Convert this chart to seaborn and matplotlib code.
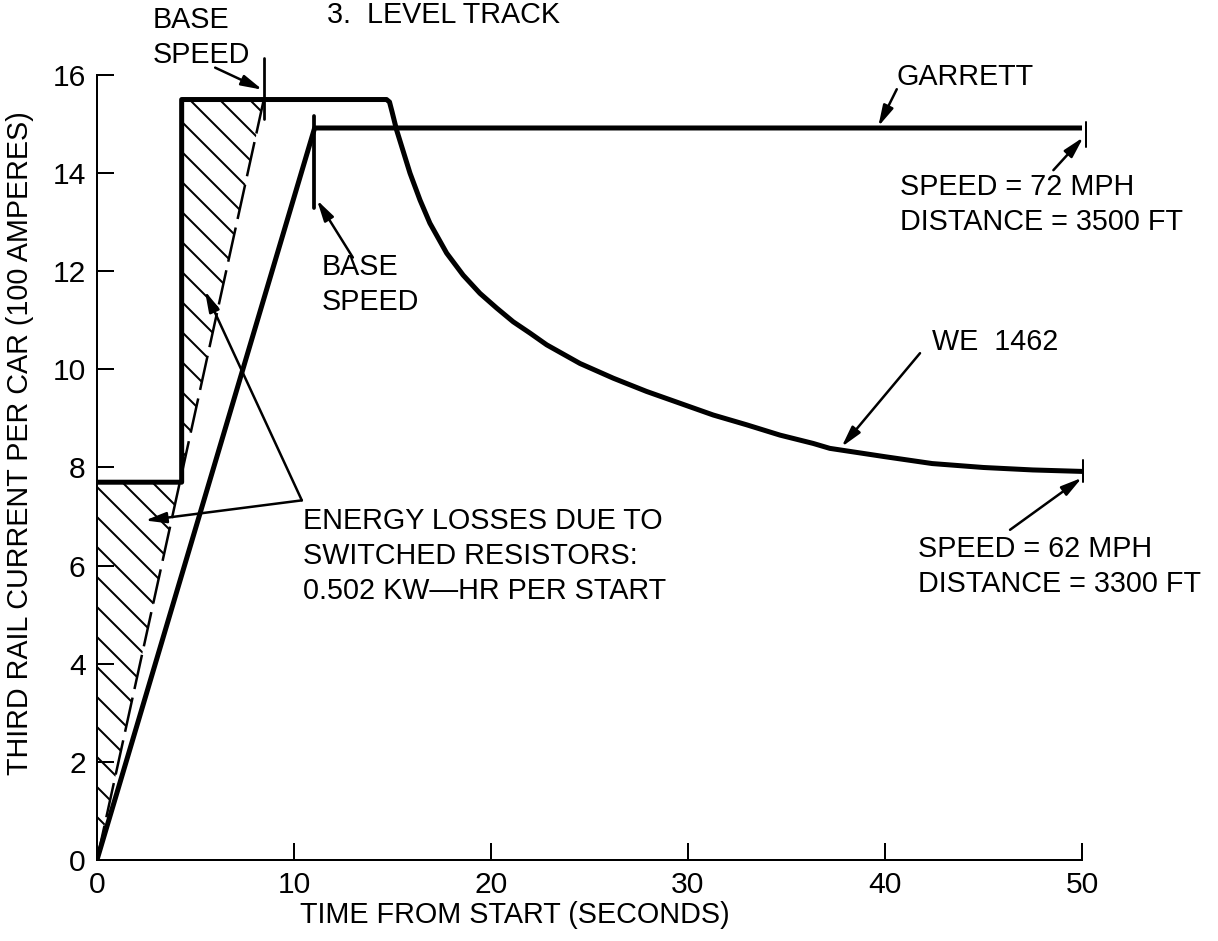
import matplotlib
matplotlib.use("Agg")
import matplotlib.pyplot as plt
import seaborn as sns
import numpy as np

# ---- data ----
# WE 1462 current trace (time s, current in 100 A)
we_t = [0, 4.3, 4.3, 14.7, 14.85, 14.98, 15.21, 15.89, 16.40, 16.90, 17.75, 18.59,
        19.44, 20.29, 21.13, 21.98, 22.83, 24.52, 26.21, 27.90, 29.59, 31.28,
        32.98, 34.67, 36.36, 37.2, 40.0, 42.4, 45.0, 47.5, 50.0]
we_i = [7.7, 7.7, 15.5, 15.5, 15.45, 15.25, 14.88, 14.0, 13.45, 12.98, 12.37, 11.92,
        11.55, 11.25, 10.97, 10.74, 10.50, 10.12, 9.82, 9.55, 9.31, 9.07,
        8.87, 8.66, 8.49, 8.39, 8.22, 8.08, 8.0, 7.95, 7.92]

# Garrett trace
garrett_t = [0, 11.05, 50.0]
garrett_i = [0, 14.92, 14.92]

# constant-acceleration reference (dashed) and the switched-resistor loss areas
dash_t = [0, 8.47]
dash_i = [0, 15.5]
loss1_t = [0, 0, 4.21]
loss1_i = [0, 7.7, 7.7]
loss2_t = [4.3, 4.3, 8.47]
loss2_i = [7.87, 15.5, 15.5]

# short marker strokes (base speed / end of run)
base1_t, base1_i = [8.47, 8.47], [15.1, 16.35]
base2_t, base2_i = [11.0, 11.0], [13.28, 15.17]
end_g_t, end_g_i = [50.2, 50.2], [14.54, 15.05]
end_w_t, end_w_i = [50.05, 50.05], [7.7, 8.15]

x_ticks = [0, 10, 20, 30, 40, 50]
y_ticks = [0, 2, 4, 6, 8, 10, 12, 14, 16]

sns.set_theme(style="ticks")
plt.rcParams['font.family'] = ['Liberation Sans', 'DejaVu Sans']
plt.rcParams['hatch.linewidth'] = 0.8
plt.rcParams['text.color'] = 'black'

DPI = 180
fig = plt.figure(figsize=(1218 / DPI, 941 / DPI), dpi=DPI)
ax = fig.add_axes([0.0796, 0.0861, 0.8087, 0.8342])

fs = 11.5
ls = 1.32

sns.lineplot(x=we_t, y=we_i, ax=ax, estimator=None, sort=False, color='black', lw=2.0)
sns.lineplot(x=garrett_t, y=garrett_i, ax=ax, estimator=None, sort=False, color='black', lw=2.0)
ax.plot(dash_t, dash_i, color='black', lw=1.0, dashes=(14, 3.5))
ax.fill(loss1_t, loss1_i, facecolor='none', edgecolor='black', hatch='\\\\', lw=0)
ax.fill(loss2_t, loss2_i, facecolor='none', edgecolor='black', hatch='\\\\', lw=0)

ax.plot(base1_t, base1_i, color='black', lw=1.1, clip_on=False)
ax.plot(base2_t, base2_i, color='black', lw=1.5, clip_on=False)
ax.plot(end_g_t, end_g_i, color='black', lw=0.8, clip_on=False)
ax.plot(end_w_t, end_w_i, color='black', lw=0.8, clip_on=False)

ax.set_xlim(0, 50)
ax.set_ylim(0, 16)
ax.set_xticks(x_ticks)
ax.set_yticks(y_ticks)
ax.tick_params(direction='in', length=6.8, width=0.8, pad=4.5, labelsize=12,
               color='black', labelcolor='black')
sns.despine(ax=ax)
for s in ['left', 'bottom']:
    ax.spines[s].set_linewidth(0.8)
    ax.spines[s].set_color('black')

ax.set_xlabel('TIME FROM START (SECONDS)', fontsize=fs, color='black')
ax.set_ylabel('THIRD RAIL CURRENT PER CAR (100 AMPERES)', fontsize=fs, color='black')
ax.xaxis.set_label_coords(0.424, -0.052)
ax.yaxis.set_label_coords(-0.064, 0.531)

fig.text(327 / 1218, 1 - 23 / 941, '3.  LEVEL TRACK', fontsize=fs, va='baseline', ha='left')

arrow = dict(arrowstyle='-|>,head_length=0.7,head_width=0.18', mutation_scale=10,
             color='black', lw=1.0, shrinkA=0, shrinkB=0)

ax.text(2.84, 16.76, 'BASE\nSPEED', fontsize=fs, va='center', ha='left', linespacing=ls)
ax.annotate('', xy=(8.4, 15.7), xytext=(6.0, 16.15), arrowprops=arrow, annotation_clip=False)

ax.text(11.42, 11.73, 'BASE\nSPEED', fontsize=fs, va='center', ha='left', linespacing=ls)
ax.annotate('', xy=(11.17, 13.45), xytext=(12.99, 12.28), arrowprops=arrow)

ax.text(40.6, 15.8, 'GARRETT', fontsize=fs, va='baseline', ha='left')
ax.annotate('', xy=(39.66, 14.95), xytext=(40.6, 15.71), arrowprops=arrow, annotation_clip=False)

ax.text(40.76, 13.36, 'SPEED = 72 MPH\nDISTANCE = 3500 FT', fontsize=fs, va='center',
        ha='left', linespacing=ls)
ax.annotate('', xy=(50.07, 14.73), xytext=(48.55, 14.06), arrowprops=arrow, annotation_clip=False)

ax.text(42.39, 10.40, 'WE  1462', fontsize=fs, va='baseline', ha='left')
ax.annotate('', xy=(37.8, 8.42), xytext=(41.78, 10.33), arrowprops=arrow)

ax.text(41.68, 5.98, 'SPEED = 62 MPH\nDISTANCE = 3300 FT', fontsize=fs, va='center',
        ha='left', linespacing=ls)
ax.annotate('', xy=(50.0, 7.79), xytext=(46.35, 6.73), arrowprops=arrow, annotation_clip=False)

ax.text(10.46, 6.19, 'ENERGY LOSSES DUE TO\nSWITCHED RESISTORS:\n0.502 KW\u2014HR PER START',
        fontsize=fs, va='center', ha='left', linespacing=ls)
ax.annotate('', xy=(5.48, 11.6), xytext=(10.4, 7.33), arrowprops=arrow)
ax.annotate('', xy=(2.44, 6.92), xytext=(10.4, 7.33), arrowprops=arrow)

fig.savefig('out.png', dpi=DPI, facecolor='white')
